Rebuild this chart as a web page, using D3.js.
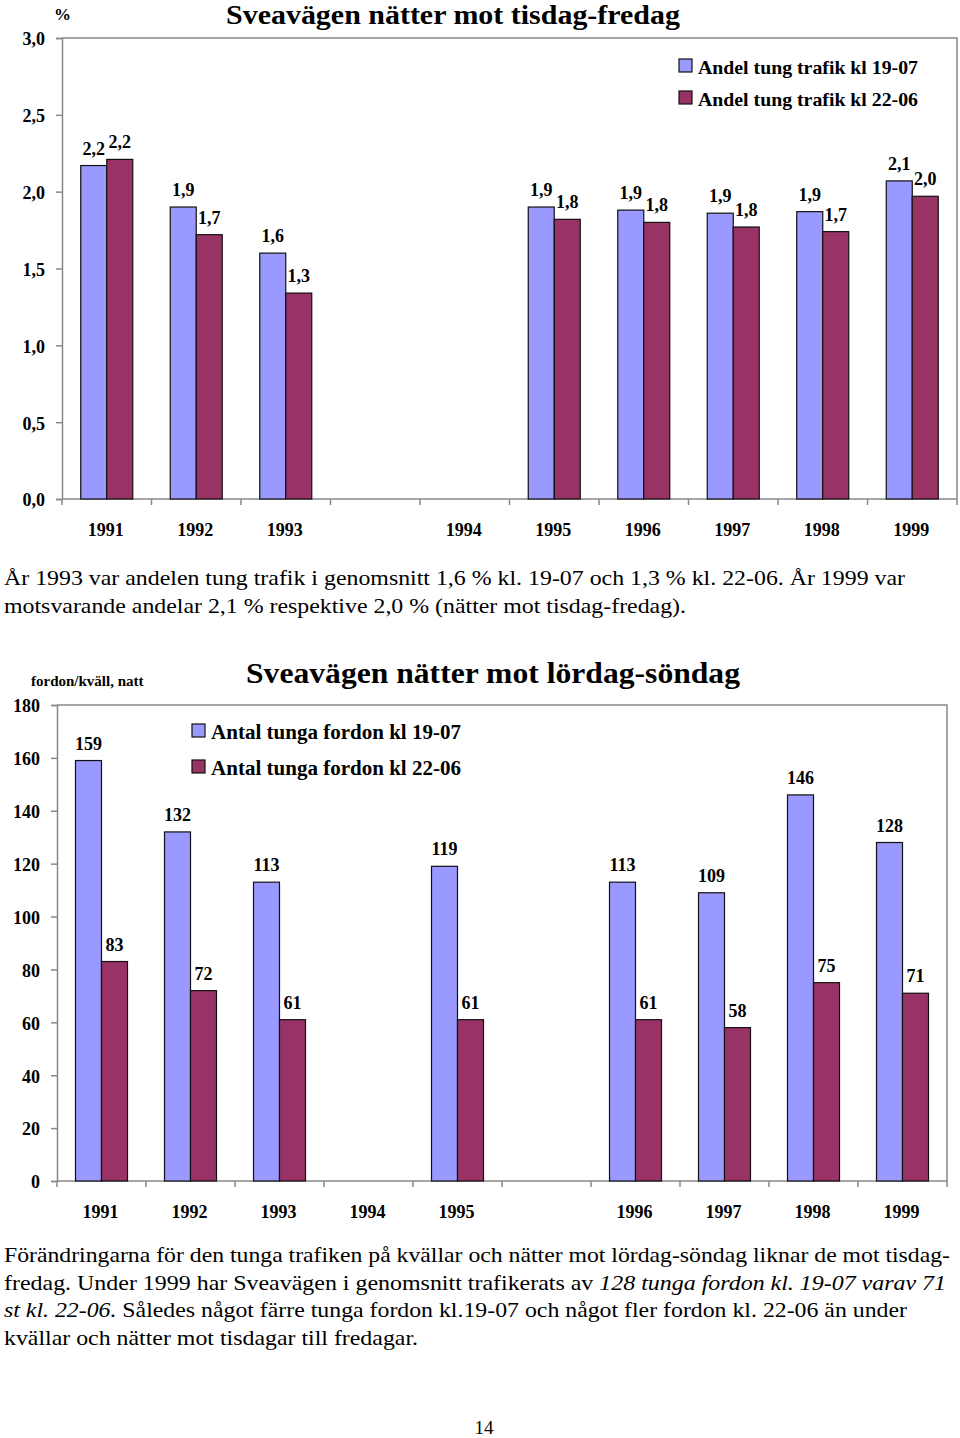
<!DOCTYPE html>
<html><head><meta charset="utf-8">
<script src="https://cdn.jsdelivr.net/npm/d3@7"></script>
<style>
body{margin:0;background:#fff}
svg{display:block}
text{font-family:"Liberation Serif","Times New Roman",serif;fill:#000}
</style>
</head><body><svg id="c" width="960" height="1438"></svg>
<script>
// ---------- data ----------
const topYears  = ["1991","1992","1993","","1994","1995","1996","1997","1998","1999"];
const topDay    = [2.17, 1.90, 1.60, null, null, 1.90, 1.88, 1.86, 1.87, 2.07];
const topNight  = [2.21, 1.72, 1.34, null, null, 1.82, 1.80, 1.77, 1.74, 1.97];
const topTicks  = [0, 0.5, 1, 1.5, 2, 2.5, 3];
const topSeries = ["Andel tung trafik kl 19-07", "Andel tung trafik kl 22-06"];
const topTitle  = "Sveavägen nätter mot tisdag-fredag";
const topUnit   = "%";

const botYears  = ["1991","1992","1993","1994","1995","","1996","1997","1998","1999"];
const botDay    = [159, 132, 113, null, 119, null, 113, 109, 146, 128];
const botNight  = [83, 72, 61, null, 61, null, 61, 58, 75, 71];
const botTicks  = [0, 20, 40, 60, 80, 100, 120, 140, 160, 180];
const botSeries = ["Antal tunga fordon kl 19-07", "Antal tunga fordon kl 22-06"];
const botTitle  = "Sveavägen nätter mot lördag-söndag";
const botUnit   = "fordon/kväll, natt";

const colors = ["#9999FF", "#993366"];
const svg = d3.select("#c");

const comma1 = v => d3.format(".1f")(v).replace(".", ",");
const int0 = v => d3.format("d")(v);

function drawChart(c) {
  const g = svg.append("g");
  const x = d3.scaleBand().domain(d3.range(c.years.length)).range([c.left, c.right]).padding(0);
  const y = d3.scaleLinear().domain([0, c.yMax]).range([c.bottom, c.top]);
  const bw = 26;

  // frame (top + right)
  g.append("path").attr("d", `M${c.left},${c.top}H${c.right}V${c.bottom}`)
    .attr("fill", "none").attr("stroke", "#888").attr("stroke-width", 1.5);

  // y axis
  const ya = g.append("g").attr("transform", `translate(${c.left},0)`)
    .call(d3.axisLeft(y).tickValues(c.ticks).tickFormat(c.tickFmt).tickSize(6).tickPadding(11));
  ya.select(".domain").attr("stroke", "#888").attr("stroke-width", 1.5);
  ya.selectAll(".tick line").attr("stroke", "#888").attr("stroke-width", 1.5);
  ya.selectAll(".tick text").attr("font-family", "Liberation Serif").attr("font-weight", "bold")
    .attr("font-size", c.tickSize).attr("dy", "0.38em");

  // x axis ticks at band boundaries
  const xa = g.append("g");
  xa.append("line").attr("x1", c.left).attr("x2", c.right).attr("y1", c.bottom).attr("y2", c.bottom)
    .attr("stroke", "#888").attr("stroke-width", 1.5);
  xa.selectAll("line.t").data(d3.range(c.years.length + 1)).join("line").attr("class", "t")
    .attr("x1", i => c.left + i * x.bandwidth()).attr("x2", i => c.left + i * x.bandwidth())
    .attr("y1", c.bottom).attr("y2", c.bottom + 6).attr("stroke", "#888").attr("stroke-width", 1.5);
  xa.selectAll("text").data(c.years).join("text")
    .attr("x", (d, i) => x(i) + x.bandwidth() / 2 - 1).attr("y", c.xLabelY)
    .attr("text-anchor", "middle").attr("font-weight", "bold").attr("font-size", c.xSize)
    .text(d => d);

  // bars
  const series = [c.day, c.night];
  series.forEach((vals, s) => {
    const pts = vals.map((v, i) => ({v, i})).filter(d => d.v != null);
    g.selectAll(null).data(pts).join("rect")
      .attr("x", d => x(d.i) + x.bandwidth() / 2 - bw + s * bw)
      .attr("y", d => y(d.v)).attr("width", bw).attr("height", d => c.bottom - y(d.v))
      .attr("fill", colors[s]).attr("stroke", "#111").attr("stroke-width", 1.2);
    g.selectAll(null).data(pts).join("text")
      .attr("x", d => x(d.i) + x.bandwidth() / 2 - bw / 2 + s * bw)
      .attr("y", d => y(d.v) - 11)
      .attr("text-anchor", "middle").attr("font-weight", "bold").attr("font-size", c.labelSize)
      .text(d => c.labelFmt(d.v));
  });

  // legend
  c.series.forEach((name, s) => {
    const ly = c.legY + s * c.legGap;
    g.append("rect").attr("x", c.legX).attr("y", ly - 13).attr("width", 13).attr("height", 13)
      .attr("fill", colors[s]).attr("stroke", "#111").attr("stroke-width", 1.2);
    g.append("text").attr("x", c.legX + c.legTextDx).attr("y", ly + 2)
      .attr("font-weight", "bold").attr("font-size", c.legSize)
      .attr("textLength", c.legW).attr("lengthAdjust", "spacingAndGlyphs").text(name);
  });

  // title + unit
  g.append("text").attr("x", c.titleX).attr("y", c.titleY).attr("font-weight", "bold")
    .attr("font-size", c.titleSize).attr("textLength", c.titleW).attr("lengthAdjust", "spacingAndGlyphs")
    .text(c.title);
  g.append("text").attr("x", c.unitX).attr("y", c.unitY).attr("font-weight", "bold")
    .attr("font-size", c.unitSize).text(c.unit);
}

drawChart({
  years: topYears, day: topDay, night: topNight, ticks: topTicks, series: topSeries,
  left: 62, right: 957, top: 38, bottom: 499, yMax: 3,
  tickFmt: comma1, labelFmt: comma1, tickSize: 18, xSize: 18, xLabelY: 536, labelSize: 18,
  legX: 679, legY: 72, legGap: 32, legTextDx: 19, legSize: 19, legW: 220,
  title: topTitle, titleX: 226, titleY: 24, titleSize: 27, titleW: 454,
  unit: topUnit, unitX: 54, unitY: 20, unitSize: 17
});

drawChart({
  years: botYears, day: botDay, night: botNight, ticks: botTicks, series: botSeries,
  left: 57, right: 947, top: 705, bottom: 1181, yMax: 180,
  tickFmt: int0, labelFmt: int0, tickSize: 18, xSize: 18, xLabelY: 1218, labelSize: 18,
  legX: 192, legY: 737, legGap: 36, legTextDx: 19, legSize: 20, legW: 250,
  title: botTitle, titleX: 246, titleY: 683, titleSize: 30, titleW: 494,
  unit: botUnit, unitX: 31, unitY: 686, unitSize: 15
});

// ---------- paragraphs ----------
function para(lines, x0, y0, lh) {
  lines.forEach((ln, i) => {
    const t = svg.append("text").attr("x", x0).attr("y", y0 + i * lh).attr("font-size", 22)
      .attr("xml:space", "preserve");
    if (ln.w) t.attr("textLength", ln.w).attr("lengthAdjust", "spacingAndGlyphs");
    ln.parts.forEach(p => t.append("tspan").attr("font-style", p.it ? "italic" : "normal").text(p.t));
  });
}
para([
  {parts: [{t: "År 1993 var andelen tung trafik i genomsnitt 1,6 % kl. 19-07 och 1,3 % kl. 22-06. År 1999 var"}], w: 901},
  {parts: [{t: "motsvarande andelar 2,1 % respektive 2,0 % (nätter mot tisdag-fredag)."}], w: 682}
], 4, 585, 27.5);

para([
  {parts: [{t: "Förändringarna för den tunga trafiken på kvällar och nätter mot lördag-söndag liknar de mot tisdag-"}], w: 946},
  {parts: [{t: "fredag. Under 1999 har Sveavägen i genomsnitt trafikerats av "}, {t: "128 tunga fordon kl. 19-07 varav 71", it: true}], w: 942},
  {parts: [{t: "st kl. 22-06.", it: true}, {t: " Således något färre tunga fordon kl.19-07 och något fler fordon kl. 22-06 än under"}], w: 903},
  {parts: [{t: "kvällar och nätter mot tisdagar till fredagar."}], w: 414}
], 4, 1262, 27.5);

svg.append("text").attr("x", 484).attr("y", 1434).attr("text-anchor", "middle").attr("font-size", 19).text("14");
</script>
</body></html>
